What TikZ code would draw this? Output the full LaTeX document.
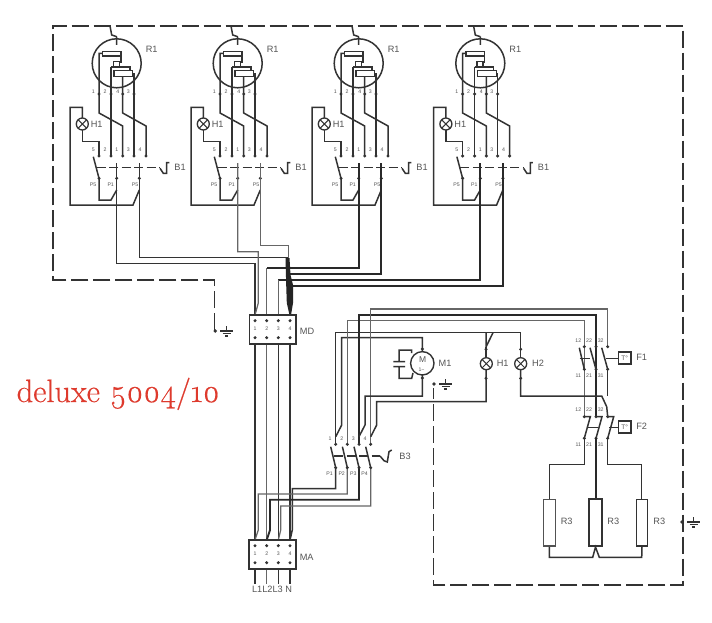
\documentclass[tikz,border=0pt]{standalone}
\usepackage{fontspec}
\setmainfont{Liberation Sans}
\newfontfamily\redfont[Numbers=OldStyle,FakeBold=0.5]{Latin Modern Roman}
\definecolor{ink}{HTML}{333333}
\definecolor{soft}{HTML}{666666}
\definecolor{lab}{HTML}{555555}
\tikzset{
  wire/.style={line width=1.5pt,draw=ink,line join=miter},
  heavy/.style={line width=1.9pt,draw=ink!80!black,line join=miter},
  lightw/.style={line width=1.25pt,draw=soft,line join=miter},
  border/.style={line width=1.5pt,draw=ink,dash pattern=on 17pt off 5pt},
  ctrl/.style={line width=1.4pt,draw=ink,dash pattern=on 9pt off 3.5pt},
  lamp/.style={circle,draw=ink,line width=1.3pt,minimum size=12pt,inner sep=0pt,fill=white,
    path picture={\draw[ink,line width=1pt] (path picture bounding box.north west)--(path picture bounding box.south east)
      (path picture bounding box.north east)--(path picture bounding box.south west);}},
  big/.style={text=lab,font=\fontsize{9.2}{10}\selectfont,inner sep=0pt},
  mini/.style={text=lab,font=\fontsize{5.2}{6}\selectfont,inner sep=0pt},
  boxed/.style={draw=ink,line width=1.9pt,fill=white,inner sep=0pt,font=\fontsize{6.5}{7}\selectfont,text=lab},
}
\newcommand{\tdot}[2]{\fill[ink] (#1,#2) circle[radius=1.7];}
\newcommand{\grd}[2]{%
  \fill[ink] (#1-11.5,#2) circle[radius=1.8];
  \draw[ink,line width=1.2pt] (#1,#2-5)--(#1,#2) (#1-6.5,#2)--(#1+6.5,#2) (#1-4,#2+2.5)--(#1+4,#2+2.5) (#1-1.7,#2+5)--(#1+1.7,#2+5);}
\newcommand{\unitdraw}[1]{%
\begin{scope}[xshift=#1pt]
  % sensor
  \draw[ink,line width=1.5pt] (116.7,63.3) circle[radius=24.5];
  \draw[wire] (116.7,36.7)--(116.7,45) (110,26)--(111.7,35)--(116.7,36.7);
  \draw[wire] (102.3,51.7) rectangle (121,56);
  \draw[wire] (121,53)--(121,62.7)--(119.3,62.7);
  \draw[wire] (113.3,61.7) rectangle (119.3,67);
  \draw[wire] (111,67)--(130,67)--(130,70.7);
  \draw[wire] (114,70.7) rectangle (132.7,76.7);
  % wires
  \draw[wire] (102.3,53.5)--(99,53.5)--(99,113)--(122.7,126)--(122.7,156);
  \draw[wire] (111,67)--(111,156);
  \draw[wire] (122.7,76.7)--(122.7,113)--(146,126)--(146,156);
  \draw[wire] (132.7,73.5)--(134,73.5)--(134,156);
  \foreach \p in {99,111,122.7,134,146}{\tdot{\p}{156}}
  \foreach \p in {99,111,122.7,134}{\tdot{\p}{94}}
  \foreach \p/\t in {93.3/1,105/2,117.7/4,128.3/3}{\node[mini] at (\p,91.5){\t};}
  \foreach \p/\t in {93.3/5,105/2,116.7/1,128.3/3,140/4}{\node[mini] at (\p,150){\t};}
  \foreach \p/\t in {93/P5,110.7/P1,135/P5}{\node[mini] at (\p,184.5){\t};}
  % lamp and return loop
  \draw[wire] (82.3,118)--(82.3,107.3)--(70,107.3)--(70,205)--(133,205)--(139.3,190);
  \draw[wire] (82.3,130)--(82.3,141.7)--(99,141.7)--(99,156);
  \node[lamp] at (82.3,124){};
  \draw[wire] (93.3,156.7)--(99,178.3)--(99,200)--(111,200)--(116.7,190);
  \tdot{99}{178.3}\tdot{116.7}{178.3}\tdot{139.3}{178.3}
  \draw[ctrl] (96.7,167.7)--(160,167.7);
  \draw[wire] (160,168.3)--(163.3,173.3)--(166.7,173.3)--(166.7,162.7)--(169.3,162.7);
  \node[big] at (151.7,49.3){R1};
  \node[big] at (96.7,124){H1};
  \node[big] at (180,167){B1};
\end{scope}}
\begin{document}
\begin{tikzpicture}[x=1pt,y=-1pt]
\useasboundingbox (0,0) rectangle (712,623);
\fill[white] (0,0) rectangle (712,623);
% earth border
\draw[border] (214.3,330)--(214.3,280)--(53,280)--(53,26)--(683,26)--(683,585)--(433.7,585)--(433.7,388);
\grd{226.7}{331}
\grd{445.5}{384}
\grd{693.5}{522}
% modules
\unitdraw{0}\unitdraw{121}\unitdraw{242}\unitdraw{363.6}
% bus to MD
\draw[wire] (116.7,163)--(116.7,263.3)--(255,263.3)--(255,315);
\draw[wire] (139.3,163)--(139.3,257.3)--(287.5,257.3);
\draw[lightw] (237.7,163)--(237.7,251.7)--(258.3,251.7)--(258.3,303)--(255,315);
\draw[lightw] (260.3,163)--(260.3,245.7)--(288.3,245.7)--(288.3,260);
\draw[heavy] (359,163)--(359,268.3)--(266.7,268.3);
\draw[lightw] (266.7,268.3)--(266.7,315);
\draw[heavy] (381.3,163)--(381.3,274.3)--(287.5,274.3);
\draw[heavy] (480.3,163)--(480.3,280.3)--(278.3,280.3);
\draw[lightw] (278.3,280.3)--(278.3,315);
\draw[heavy] (503,163)--(503,285.7)--(290,285.7);
\fill[ink!70!black] (285.5,258)--(289.5,258)--(290.5,275)--(293,285)--(293,303)--(291,315)--(289.5,315)--(286.8,303)--(286.2,285)--cycle;
% MD to MA
\foreach \p/\s in {255/wire,266.7/lightw,278.3/wire,290/wire}{\draw[\s] (\p,344)--(\p,540);\draw[\s] (\p,569)--(\p,584);}
% B3 lower wires
\draw[wire] (335.7,467.7)--(335.7,488.7)--(292.3,488.7)--(292.3,530)--(290,540);
\draw[lightw] (347.3,467.7)--(347.3,494)--(258.3,494)--(258.3,530)--(255,540);
\draw[heavy] (359,467.7)--(359,499.7)--(270,499.7)--(270,530)--(266.7,540);
\draw[lightw] (370.7,467.7)--(370.7,506)--(280.7,506)--(280.7,530)--(278.3,540);
% MD, MA
\node[draw=ink,line width=1.6pt,fill=white,minimum width=46.7pt,minimum height=29pt,inner sep=0pt] (md) at (272.7,329.5){};
\node[draw=ink,line width=1.6pt,fill=white,minimum width=46.7pt,minimum height=29pt,inner sep=0pt] (ma) at (272.5,554.5){};
\foreach \p/\t in {255/1,266.7/2,278.3/3,290/4}{
  \tdot{\p}{320.7}\tdot{\p}{337.7}\node[mini] at (\p,329){\t};
  \tdot{\p}{545.7}\tdot{\p}{562.7}\node[mini] at (\p,554){\t};
}
\node[big] at (307,331){MD};
\node[big] at (306.7,557){MA};
\node[big] (lines) at (272,589.5){L1L2L3 N};
% B3 upper wires
\draw[wire] (335.7,444.3)--(335.7,332.7)--(520.7,332.7)--(520.7,358);
\draw[wire] (335.7,436.7)--(341.7,425)--(341.7,337.7)--(422.3,337.7)--(422.3,352);
\draw[lightw] (347.3,444.3)--(347.3,320.7)--(584.3,320.7)--(584.3,416.7);
\draw[heavy] (359,444.3)--(359,315)--(596,315)--(596,416.7);
\draw[lightw] (370.7,444.3)--(370.7,309)--(607.7,309)--(607.7,346.7);
\draw[wire] (359,436.7)--(365,425)--(365,396)--(422.3,396)--(422.3,375);
\draw[wire] (370.7,436.7)--(376.7,425)--(376.7,401.7)--(486,401.7)--(486,370);
% B3 switch
\foreach \p/\t/\q in {335.7/1/330,347.3/2/341.7,359/3/353.3,370.7/4/365}{
  \tdot{\p}{444.3}\tdot{\p}{467.7}
  \node[mini] at (\q,439){\t};
  \draw[wire] (\q+.7,446.7)--(\p,467.7);
}
\foreach \q/\t in {329.5/P1,341.7/P2,353.3/P3,364.5/P4}{\node[mini] at (\q,473.5){\t};}
\draw[ctrl] (334,456)--(380,456);
\draw[wire] (380,456)--(384,460.7)--(387.3,462)--(389,451.7)--(391.7,450);
\node[big] at (405,456){B3};
% motor
\draw[wire] (411.7,353)--(411.7,350)--(399,350)--(399,361.7) (393.3,361.7)--(405,361.7) (393.3,366.7)--(405,366.7) (399,366.7)--(399,378.3)--(411.7,378.3)--(413,373);
\draw[ink,line width=1.4pt] (422.3,363.3) circle[radius=11.7];
\tdot{422.3}{349}\tdot{422.3}{378}
\node[text=lab,font=\fontsize{8.5}{9}\selectfont,inner sep=0pt] (mot) at (422.6,359.5){M};
\node[mini] at (421.5,370){1\textasciitilde};
\node[big] at (445,363.7){M1};
% lamps
\draw[wire] (486,332.7)--(486,347)--(493,332.7);
\draw[wire] (486,347)--(486,358);
\draw[wire] (520.7,369)--(520.7,396)--(601.7,396)--(606.7,406.7)--(607.7,416.7);
\node[lamp] (h1) at (486.3,363.7){};
\node[lamp] (h2) at (520.7,363.7){};
\tdot{486}{349.3}\tdot{486}{378.3}\tdot{520.7}{349.3}\tdot{520.7}{378.3}
\node[big] at (502.7,363.7){H1};
\node[big] at (538,363.7){H2};
% F1
\foreach \p/\q/\a/\b in {584.3/579.3/12/11,596/590/22/21,607.7/601.7/32/31}{
  \tdot{\p}{346.7}\tdot{\p}{369.3}
  \draw[wire] (\q,347.7)--(\p,369.3);
  \node[mini] at (\q-1,340.7){\a};
  \node[mini] at (\q-1,376){\b};
}
\draw[wire] (607.7,369.3)--(607.7,396);
\draw[wire] (579.5,358.5)--(590,358.5) (606,358.5)--(619,358.5);
\node[boxed,minimum width=12.5pt,minimum height=12pt] (f1) at (624.7,358.2){T\textdegree};
\node[big] at (641.7,357.7){F1};
% F2
\foreach \p/\q/\a/\b in {584.3/579.3/12/11,596/590/22/21,607.7/601.7/32/31}{
  \tdot{\p}{416.7}\tdot{\p}{438.3}
  \draw[wire] (\p,416.7)--(\p+6,416.7)--(\p,438.3);
  \node[mini] at (\q-1,410){\a};
  \node[mini] at (\q-1,444.5){\b};
}
\draw[wire] (586.7,427.5)--(598.3,427.5) (609.3,427.5)--(619,427.5);
\node[boxed,minimum width=12.5pt,minimum height=12.5pt] (f2) at (624.7,427){T\textdegree};
\node[big] at (641.7,426.7){F2};
% heaters
\draw[wire] (584.3,438.3)--(584.3,464.3)--(549.3,464.3)--(549.3,499.3);
\draw[heavy] (596,438.3)--(596,499.3);
\draw[wire] (607.7,438.3)--(607.7,464.3)--(641.7,464.3)--(641.7,499.3);
\node[draw=ink!85!white,line width=1.5pt,minimum width=12pt,minimum height=46.7pt,inner sep=0pt] (r1) at (549.3,522.7){};
\node[draw=ink,line width=2pt,minimum width=12.4pt,minimum height=46.7pt,inner sep=0pt] (r2) at (595.5,522.7){};
\node[draw=ink,line width=1.5pt,minimum width=11.4pt,minimum height=46.7pt,inner sep=0pt] (r3) at (642,522.7){};
\draw[wire] (r1.south)--(549.3,557.3)--(592.7,557.3)--(r2.south)--(599.3,557.3)--(641.7,557.3)--(r3.south);
\node[big] at (566.7,521.7){R3};
\node[big] at (613.3,521.7){R3};
\node[big] at (659.3,521.7){R3};
% title
\node[text={rgb,255:red,222;green,58;blue,45},font=\redfont\fontsize{32.4}{34}\selectfont,inner sep=0pt,anchor=base west] (title) at (16.5,402){deluxe 5004/10};
\end{tikzpicture}
\end{document}
